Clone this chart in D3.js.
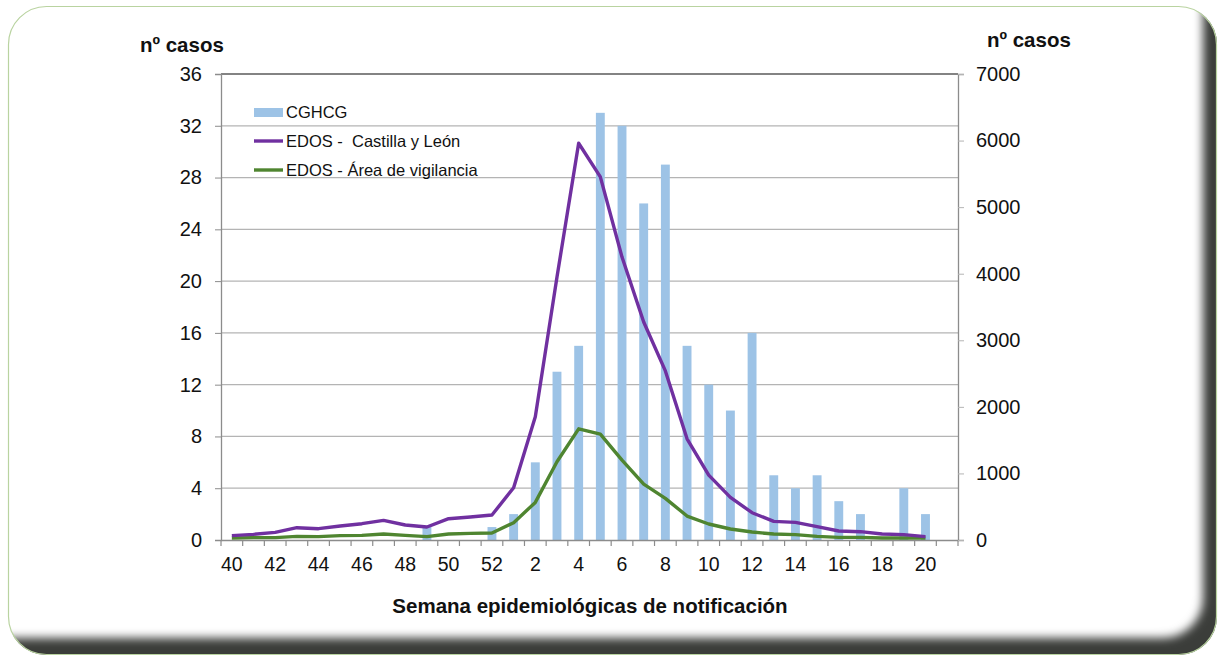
<!DOCTYPE html>
<html>
  <head>
    <meta charset="utf-8">
    <title>Casos por semana epidemiológica</title>
    <script src="https://d3js.org/d3.v7.min.js"></script>
    <style>
      body {
        margin: 0;
        background: #fff;
        font-family: "Liberation Sans", Arial, sans-serif;
      }
      .tick text {
        font-family: "Liberation Sans", Arial, sans-serif;
        fill: #111;
      }
      .axis-title {
        font-weight: bold;
        fill: #111;
      }
      .legend text {
        font-size: 16.5px;
        fill: #111;
      }
    </style>
  </head>
  <body>
    <div id="chart"></div>

    <script>
      // semanas 40..52 y 1..21 (la 21 queda vacia)
      const weeks = [40, 41, 42, 43, 44, 45, 46, 47, 48, 49, 50, 51, 52,
                     1, 2, 3, 4, 5, 6, 7, 8, 9, 10, 11, 12, 13, 14, 15, 16, 17, 18, 19, 20, 21];
      const weekLabels = [40, 42, 44, 46, 48, 50, 52, 2, 4, 6, 8, 10, 12, 14, 16, 18, 20];

      // CGHCG (eje izquierdo)
      const cghcg = [0, 0, 0, 0, 0, 0, 0, 0, 0, 1, 0, 0, 1,
                     2, 6, 13, 15, 33, 32, 26, 29, 15, 12, 10, 16, 5, 4, 5, 3, 2, 0, 4, 2, 0];

      // EDOS (eje derecho)
      const edosCyL = [65, 85, 115, 185, 170, 210, 245, 295, 225, 195, 320, 345, 375,
                       785, 1850, 3950, 5960, 5455, 4250, 3275, 2540, 1520, 975, 640, 410,
                       280, 265, 200, 135, 125, 90, 80, 50, null];
      const edosArea = [30, 35, 35, 55, 50, 65, 70, 90, 70, 50, 90, 100, 105,
                        260, 565, 1175, 1670, 1590, 1200, 840, 625, 360, 240, 165, 120,
                        90, 80, 55, 40, 40, 30, 30, 30, null];

      const leftTicks = d3.range(0, 37, 4);
      const rightTicks = d3.range(0, 7001, 1000);

      const W = 1223, H = 657;
      const plot = { left: 221, right: 958, top: 74, bottom: 540 };

      const svg = d3.select("#chart").append("svg")
        .attr("width", W)
        .attr("height", H);

      // marco redondeado con sombra
      const defs = svg.append("defs");
      defs.append("filter").attr("id", "soft")
        .attr("x", "-5%").attr("y", "-5%").attr("width", "110%").attr("height", "110%")
        .append("feGaussianBlur").attr("stdDeviation", 5);

      svg.append("rect")
        .attr("x", 8).attr("y", 6)
        .attr("width", 1209).attr("height", 649)
        .attr("rx", 38)
        .attr("fill", "#3b3d3a");
      svg.append("rect")
        .attr("x", -40).attr("y", -40)
        .attr("width", 1243).attr("height", 678)
        .attr("rx", 40)
        .attr("fill", "#fff")
        .attr("filter", "url(#soft)");
      svg.append("rect")
        .attr("x", 8.5).attr("y", 6.5)
        .attr("width", 1208).attr("height", 648)
        .attr("rx", 38)
        .attr("fill", "none")
        .attr("stroke", "#b9d3a0")
        .attr("stroke-width", 1.2);

      const x = d3.scaleBand()
        .domain(weeks)
        .range([plot.left, plot.right])
        .paddingInner(0)
        .paddingOuter(0);
      const yL = d3.scaleLinear().domain([0, 36]).range([plot.bottom, plot.top]);
      const yR = d3.scaleLinear().domain([0, 7000]).range([plot.bottom, plot.top]);

      // lineas de rejilla
      svg.append("g")
        .selectAll("line")
        .data(leftTicks.filter(d => d > 0))
        .join("line")
          .attr("x1", plot.left).attr("x2", plot.right)
          .attr("y1", d => yL(d)).attr("y2", d => yL(d))
          .attr("stroke", d => d === 36 ? "#5a5a5a" : "#b4b4b4")
          .attr("stroke-width", 1.3);

      // barras
      const barW = x.bandwidth() * 0.41;
      svg.append("g")
        .selectAll("rect")
        .data(weeks.map((w, i) => ({ w, v: cghcg[i] })).filter(d => d.v > 0))
        .join("rect")
          .attr("x", d => x(d.w) + x.bandwidth() / 2 - barW / 2)
          .attr("y", d => yL(d.v))
          .attr("width", barW)
          .attr("height", d => yL(0) - yL(d.v))
          .attr("fill", "#9dc3e6");

      // ejes
      const axisColor = "#8c8c8c";

      const gx = svg.append("g")
        .attr("transform", `translate(0,${plot.bottom})`)
        .call(d3.axisBottom(x).tickValues(weekLabels).tickSize(0).tickPadding(17));
      gx.select(".domain").attr("stroke", axisColor).attr("stroke-width", 1.3);
      gx.selectAll(".tick text").style("font-size", "19.5px");

      // marcas entre categorias
      svg.append("g")
        .selectAll("line")
        .data(weeks.concat(["end"]))
        .join("line")
          .attr("x1", (d, i) => plot.left + i * x.bandwidth())
          .attr("x2", (d, i) => plot.left + i * x.bandwidth())
          .attr("y1", plot.bottom).attr("y2", plot.bottom + 6)
          .attr("stroke", axisColor).attr("stroke-width", 1.2);

      const gl = svg.append("g")
        .attr("transform", `translate(${plot.left},0)`)
        .call(d3.axisLeft(yL).tickValues(leftTicks).tickSize(6).tickPadding(13));
      gl.select(".domain").attr("stroke", axisColor).attr("stroke-width", 1.3);
      gl.selectAll(".tick line").attr("stroke", axisColor);
      gl.selectAll(".tick text").style("font-size", "20px");

      const gr = svg.append("g")
        .attr("transform", `translate(${plot.right},0)`)
        .call(d3.axisRight(yR).tickValues(rightTicks).tickFormat(d3.format("d"))
          .tickSize(6).tickPadding(12));
      gr.select(".domain").attr("stroke", axisColor).attr("stroke-width", 1.3);
      gr.selectAll(".tick line").attr("stroke", "#b4b4b4");
      gr.selectAll(".tick text").style("font-size", "20px");

      // lineas
      const cx = w => x(w) + x.bandwidth() / 2;
      const line = vals => d3.line()
        .defined((w, i) => vals[i] != null)
        .x(w => cx(w))
        .y((w, i) => yR(vals[i]));

      svg.append("path")
        .attr("d", line(edosArea)(weeks))
        .attr("fill", "none")
        .attr("stroke", "#4f8530")
        .attr("stroke-width", 3.4)
        .attr("stroke-linejoin", "round");
      svg.append("path")
        .attr("d", line(edosCyL)(weeks))
        .attr("fill", "none")
        .attr("stroke", "#7030a0")
        .attr("stroke-width", 3.4)
        .attr("stroke-linejoin", "round");

      // titulos
      svg.append("text").attr("class", "axis-title")
        .attr("x", 140).attr("y", 52)
        .style("font-size", "20.5px")
        .text("nº casos");
      svg.append("text").attr("class", "axis-title")
        .attr("x", 987).attr("y", 47)
        .style("font-size", "20.5px")
        .text("nº casos");
      svg.append("text").attr("class", "axis-title")
        .attr("x", 590).attr("y", 613)
        .attr("text-anchor", "middle")
        .style("font-size", "20.5px")
        .text("Semana epidemiológicas de notificación");

      // leyenda
      const legendItems = [
        { name: "CGHCG", type: "bar", color: "#9dc3e6" },
        { name: "EDOS -  Castilla y León", type: "line", color: "#7030a0" },
        { name: "EDOS - Área de vigilancia", type: "line", color: "#4f8530" }
      ];
      const legend = svg.append("g").attr("class", "legend")
        .attr("transform", "translate(254,112)");
      const li = legend.selectAll("g")
        .data(legendItems)
        .join("g")
          .attr("transform", (d, i) => `translate(0,${i * 29})`);
      li.filter(d => d.type === "bar").append("rect")
        .attr("x", 0).attr("y", -4).attr("width", 29).attr("height", 9)
        .attr("fill", d => d.color);
      li.filter(d => d.type === "line").append("line")
        .attr("x1", 0).attr("x2", 29).attr("y1", 0).attr("y2", 0)
        .attr("stroke", d => d.color).attr("stroke-width", 3.4);
      li.append("text")
        .attr("x", 32).attr("y", 6)
        .style("white-space", "pre")
        .text(d => d.name);
    </script>
  </body>
</html>
